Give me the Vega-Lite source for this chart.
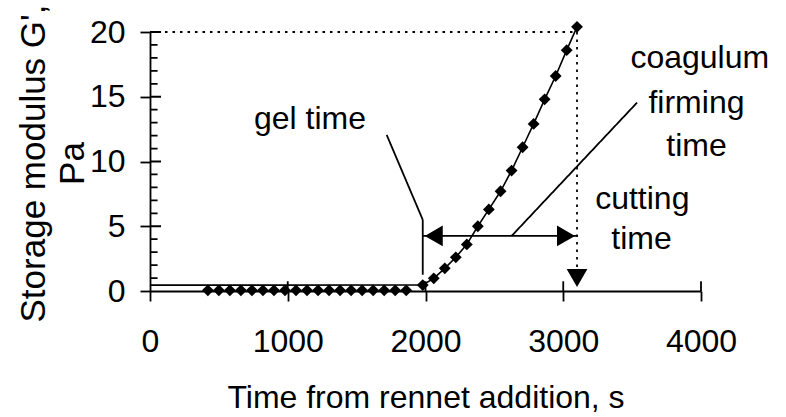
{
  "$schema": "https://vega.github.io/schema/vega-lite/v6.json",
  "width": 551,
  "height": 259,
  "autosize": {"type": "none"},
  "padding": {"left": 150, "top": 32, "right": 85, "bottom": 126},
  "background": "white",
  "config": {
    "view": {"stroke": null},
    "font": "Liberation Sans",
    "axis": {
      "domainColor": "black", "domainWidth": 1.8, "tickColor": "black", "tickWidth": 1.8,
      "tickSize": 10, "labelColor": "black", "titleColor": "black", "grid": false,
      "labelFont": "Liberation Sans", "titleFont": "Liberation Sans",
      "labelFontSize": 32, "titleFontSize": 32, "titleFontWeight": "normal"
    }
  },
  "datasets": {
    "segs": [
      {"t": 1718, "G": 12.06, "t2": 1980, "G2": 5.5, "style": "solid"},
      {"t": 1980, "G": 5.5, "t2": 1980, "G2": 1.25, "style": "solid"},
      {"t": 1980, "G": 4.25, "t2": 3100, "G2": 4.25, "style": "solid"},
      {"t": 2625, "G": 4.25, "t2": 3536, "G2": 14.55, "style": "solid"},
      {"t": 0, "G": 20, "t2": 3100, "G2": 20, "style": "dot"},
      {"t": 3100, "G": 20, "t2": 3100, "G2": 1.8, "style": "dot"},
      {"t": 0, "G": 5, "t2": 80, "G2": 5, "style": "solid"},
      {"t": 0, "G": 10, "t2": 80, "G2": 10, "style": "solid"},
      {"t": 0, "G": 15, "t2": 80, "G2": 15, "style": "solid"},
      {"t": 0, "G": 20, "t2": 80, "G2": 20, "style": "solid"},
      {"t": 0, "G": 1, "t2": 55, "G2": 1, "style": "solid"},
      {"t": 0, "G": 2, "t2": 55, "G2": 2, "style": "solid"},
      {"t": 0, "G": 3, "t2": 55, "G2": 3, "style": "solid"},
      {"t": 0, "G": 4, "t2": 55, "G2": 4, "style": "solid"},
      {"t": 0, "G": 6, "t2": 55, "G2": 6, "style": "solid"},
      {"t": 0, "G": 7, "t2": 55, "G2": 7, "style": "solid"},
      {"t": 0, "G": 8, "t2": 55, "G2": 8, "style": "solid"},
      {"t": 0, "G": 9, "t2": 55, "G2": 9, "style": "solid"},
      {"t": 0, "G": 11, "t2": 55, "G2": 11, "style": "solid"},
      {"t": 0, "G": 12, "t2": 55, "G2": 12, "style": "solid"},
      {"t": 0, "G": 13, "t2": 55, "G2": 13, "style": "solid"},
      {"t": 0, "G": 14, "t2": 55, "G2": 14, "style": "solid"},
      {"t": 0, "G": 16, "t2": 55, "G2": 16, "style": "solid"},
      {"t": 0, "G": 17, "t2": 55, "G2": 17, "style": "solid"},
      {"t": 0, "G": 18, "t2": 55, "G2": 18, "style": "solid"},
      {"t": 0, "G": 19, "t2": 55, "G2": 19, "style": "solid"},
      {"t": 1000, "G": 0, "t2": 1000, "G2": 0.75, "style": "solid"},
      {"t": 2000, "G": 0, "t2": 2000, "G2": 0.75, "style": "solid"},
      {"t": 3000, "G": 0, "t2": 3000, "G2": 0.75, "style": "solid"},
      {"t": 4000, "G": 0, "t2": 4000, "G2": 0.75, "style": "solid"}
    ],
    "fit": [
      {"t": 0, "G": 0.45}, {"t": 1980, "G": 0.46}, {"t": 2060, "G": 0.98}, {"t": 2140, "G": 1.75},
      {"t": 2220, "G": 2.6}, {"t": 2300, "G": 3.6}, {"t": 2380, "G": 5.0}, {"t": 2460, "G": 6.3},
      {"t": 2545, "G": 7.7}, {"t": 2625, "G": 9.3}, {"t": 2705, "G": 11.1}, {"t": 2785, "G": 12.9},
      {"t": 2865, "G": 14.8}, {"t": 2945, "G": 16.6}, {"t": 3025, "G": 18.6}, {"t": 3100, "G": 20.4}
    ],
    "obs": [
      {"t": 420, "G": 0.05}, {"t": 500, "G": 0.05}, {"t": 580, "G": 0.05}, {"t": 660, "G": 0.05},
      {"t": 740, "G": 0.05}, {"t": 820, "G": 0.05}, {"t": 900, "G": 0.05}, {"t": 980, "G": 0.05},
      {"t": 1060, "G": 0.05}, {"t": 1140, "G": 0.05}, {"t": 1220, "G": 0.05}, {"t": 1300, "G": 0.05},
      {"t": 1380, "G": 0.05}, {"t": 1460, "G": 0.05}, {"t": 1540, "G": 0.05}, {"t": 1620, "G": 0.05},
      {"t": 1700, "G": 0.05}, {"t": 1780, "G": 0.05}, {"t": 1860, "G": 0.05},
      {"t": 1980, "G": 0.46}, {"t": 2060, "G": 0.98}, {"t": 2140, "G": 1.75},
      {"t": 2220, "G": 2.6}, {"t": 2300, "G": 3.6}, {"t": 2380, "G": 5.0}, {"t": 2460, "G": 6.3},
      {"t": 2545, "G": 7.7}, {"t": 2625, "G": 9.3}, {"t": 2705, "G": 11.1}, {"t": 2785, "G": 12.9},
      {"t": 2865, "G": 14.8}, {"t": 2945, "G": 16.6}, {"t": 3025, "G": 18.6}, {"t": 3100, "G": 20.4}
    ],
    "heads": [
      {"t": 2060, "G": 4.25, "shape": "triangle-left"},
      {"t": 3020, "G": 4.25, "shape": "triangle-right"},
      {"t": 3100, "G": 1.0, "shape": "triangle-down"}
    ],
    "labels": [
      {"t": 1161, "G": 13.3, "label": "gel time"},
      {"t": 3991, "G": 18.0, "label": "coagulum"},
      {"t": 3967, "G": 14.55, "label": "firming"},
      {"t": 3967, "G": 11.2, "label": "time"},
      {"t": 3574, "G": 7.1, "label": "cutting"},
      {"t": 3568, "G": 4.0, "label": "time"}
    ]
  },
  "encoding": {
    "x": {
      "field": "t", "type": "quantitative",
      "scale": {"domain": [0, 4000], "nice": false, "zero": false},
      "axis": {"values": [0, 1000, 2000, 3000, 4000], "format": "d", "labelPadding": 25, "title": "Time from rennet addition, s", "titlePadding": 25, "labelFlush": false}
    },
    "y": {
      "field": "G", "type": "quantitative",
      "scale": {"domain": [0, 20], "nice": false, "zero": false},
      "axis": {"values": [0, 5, 10, 15, 20], "format": "d", "labelPadding": 15, "title": ["Storage modulus G',", "Pa"], "titleFontSize": 35, "titleLineHeight": 39, "titleAngle": -90, "titleX": -117, "titleY": 131, "titleBaseline": "middle", "titleAlign": "center", "labelFlush": false}
    }
  },
  "layer": [
    {
      "data": {"name": "segs"},
      "mark": {"type": "rule", "color": "black", "strokeWidth": 1.8},
      "encoding": {
        "x2": {"field": "t2"},
        "y2": {"field": "G2"},
        "strokeDash": {"field": "style", "type": "nominal", "scale": {"domain": ["solid", "dot"], "range": [[1, 0], [2.5, 5]]}, "legend": null}
      }
    },
    {
      "data": {"name": "fit"},
      "mark": {"type": "line", "color": "black", "strokeWidth": 1.6},
      "encoding": {}
    },
    {
      "data": {"name": "obs"},
      "mark": {"type": "point", "shape": "diamond", "filled": true, "color": "black", "size": 140, "opacity": 1}
    },
    {
      "data": {"name": "heads"},
      "mark": {"type": "point", "filled": true, "color": "black", "size": 430, "opacity": 1},
      "encoding": {"shape": {"field": "shape", "type": "nominal", "scale": null}}
    },
    {
      "data": {"name": "labels"},
      "mark": {"type": "text", "fontSize": 32, "font": "Liberation Sans", "color": "black", "align": "center", "baseline": "middle"},
      "encoding": {"text": {"field": "label"}}
    }
  ]
}
